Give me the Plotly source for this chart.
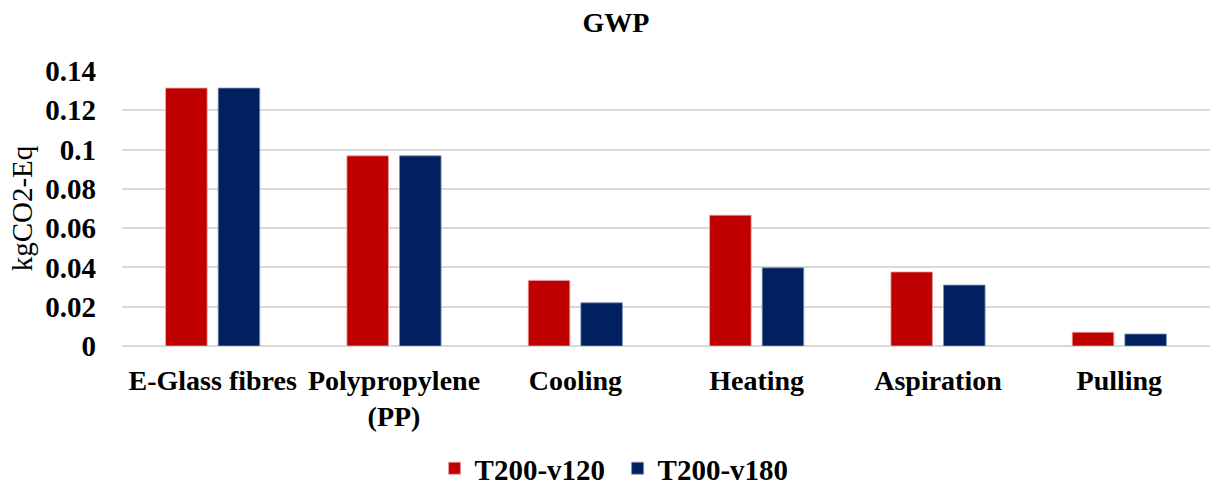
import plotly.graph_objects as go

categories = ["E-Glass fibres", "Polypropylene<br>(PP)", "Cooling", "Heating", "Aspiration", "Pulling"]
t200_v120 = [0.1313, 0.0968, 0.0334, 0.0666, 0.0377, 0.0070]
t200_v180 = [0.1313, 0.0968, 0.0220, 0.0398, 0.0310, 0.0061]
tick_vals = [0, 0.02, 0.04, 0.06, 0.08, 0.1, 0.12, 0.14]
tick_text = ["0", "0.02", "0.04", "0.06", "0.08", "0.1", "0.12", "0.14"]

font_family = "Liberation Serif, Times New Roman, serif"

fig = go.Figure()
fig.add_trace(go.Bar(x=categories, y=t200_v120, name="<b>T200-v120</b>",
                     marker=dict(color="#C00000", line=dict(color="#E8A0A0", width=0.8))))
fig.add_trace(go.Bar(x=categories, y=t200_v180, name="<b>T200-v180</b>",
                     marker=dict(color="#002060", line=dict(color="#8090B0", width=0.8))))

fig.update_layout(
    width=1232, height=488,
    paper_bgcolor="white", plot_bgcolor="white",
    margin=dict(l=122, r=22, t=71, b=142, autoexpand=False),
    barmode="group", bargap=0.42, bargroupgap=0.21,
    title=dict(text="<b>GWP</b>", x=0.5, xanchor="center", y=0.955, yanchor="middle",
               font=dict(family=font_family, size=28, color="black")),
    font=dict(family=font_family, color="black"),
    legend=dict(orientation="h", x=0.4555, xanchor="center", y=-0.445, yanchor="middle",
                font=dict(family=font_family, size=29, color="black"),
                itemwidth=30, entrywidth=138, traceorder="normal"),
    xaxis=dict(tickfont=dict(family=font_family, size=28, color="black"),
               tickprefix="<b>", ticksuffix="</b>", showline=False, ticks="",
               tickangle=0, ticklabelstandoff=15),
    yaxis=dict(range=[0, 0.14], tickvals=tick_vals,
               ticktext=["<b>" + t + "</b>" for t in tick_text],
               tickfont=dict(family=font_family, size=29, color="black"),
               showgrid=True, gridcolor="#D9D9D9", gridwidth=1.5,
               zeroline=True, zerolinecolor="#D9D9D9", zerolinewidth=1.5,
               ticks="", ticklabelstandoff=25,
               title=dict(text="kgCO2-Eq", font=dict(family=font_family, size=29, color="black"), standoff=4)),
)

fig.write_html("out.html")
